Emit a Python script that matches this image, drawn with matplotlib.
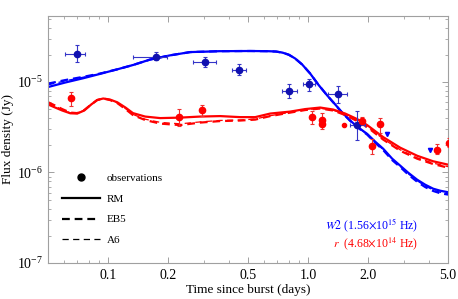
import matplotlib
matplotlib.use("Agg")
import matplotlib.pyplot as plt
from matplotlib.lines import Line2D
from matplotlib.ticker import FixedLocator, NullFormatter, LogFormatterMathtext

plt.rcParams['font.family'] = ['Liberation Serif', 'DejaVu Serif']
plt.rcParams['mathtext.fontset'] = 'stix'

# ---- W2 model curves ----
w2_t = [0.0501, 0.0610, 0.0750, 0.0912, 0.111, 0.133, 0.162, 0.204, 0.257, 0.363, 0.513,
        0.624, 0.690, 0.745, 0.800, 0.860, 0.933, 1.023, 1.122, 1.245, 1.365, 1.479, 1.622, 1.758, 1.972,
        2.163, 2.371, 2.630, 2.884, 3.162, 3.508, 3.846, 4.217, 4.571, 5.01]
w2_rm = [8.80e-6, 9.87e-6, 1.10e-5, 1.23e-5, 1.38e-5, 1.54e-5, 1.77e-5, 1.97e-5, 2.14e-5,
         2.19e-5, 2.20e-5, 2.19e-5, 2.17e-5, 2.11e-5, 2.00e-5, 1.82e-5, 1.56e-5, 1.24e-5, 9.38e-6, 7.09e-6,
         5.64e-6, 4.59e-6, 3.75e-6, 3.21e-6, 2.67e-6, 2.19e-6, 1.83e-6, 1.42e-6, 1.19e-6,
         9.95e-7, 8.32e-7, 7.33e-7, 6.62e-7, 6.29e-7, 6.05e-7]
w2_eb5 = [9.60e-6, 1.05e-5, 1.14e-5, 1.24e-5, 1.38e-5, 1.54e-5, 1.77e-5, 1.97e-5, 2.14e-5,
          2.19e-5, 2.20e-5, 2.19e-5, 2.17e-5, 2.11e-5, 2.00e-5, 1.82e-5, 1.56e-5, 1.24e-5, 9.40e-6, 7.10e-6,
          5.62e-6, 4.57e-6, 3.72e-6, 3.17e-6, 2.62e-6, 2.13e-6, 1.77e-6, 1.37e-6, 1.15e-6,
          9.5e-7, 7.9e-7, 6.9e-7, 6.25e-7, 5.9e-7, 5.70e-7]
w2_a6 = [9.30e-6, 1.03e-5, 1.13e-5, 1.24e-5, 1.38e-5, 1.54e-5, 1.77e-5, 1.97e-5, 2.14e-5,
         2.19e-5, 2.20e-5, 2.19e-5, 2.17e-5, 2.11e-5, 2.00e-5, 1.82e-5, 1.56e-5, 1.24e-5, 9.40e-6, 7.10e-6,
         5.63e-6, 4.58e-6, 3.73e-6, 3.19e-6, 2.64e-6, 2.15e-6, 1.79e-6, 1.39e-6, 1.17e-6,
         9.7e-7, 8.1e-7, 7.1e-7, 6.4e-7, 6.05e-7, 5.85e-7]

# ---- r model curves ----
r_t = [0.0501, 0.0543, 0.0589, 0.0646, 0.0700, 0.0759, 0.0822, 0.0881, 0.0944, 0.102, 0.111,
       0.122, 0.133, 0.153, 0.182, 0.229, 0.288, 0.363, 0.457, 0.543, 0.646, 0.813, 0.966,
       1.148, 1.334, 1.531, 1.758, 1.972, 2.371, 2.884, 3.508, 4.217, 5.01]
r_rm = [5.64e-6, 5.22e-6, 4.84e-6, 4.51e-6, 4.48e-6, 4.84e-6, 5.64e-6, 6.32e-6, 6.57e-6,
        6.40e-6, 5.97e-6, 5.22e-6, 4.53e-6, 4.15e-6, 3.99e-6, 4.04e-6, 4.15e-6, 4.20e-6,
        4.09e-6, 4.09e-6, 4.48e-6, 4.71e-6, 5.02e-6, 5.22e-6, 4.96e-6, 4.48e-6, 3.89e-6,
        3.34e-6, 2.46e-6, 1.88e-6, 1.53e-6, 1.33e-6, 1.22e-6]
r_eb5 = [5.97e-6, 5.49e-6, 5.02e-6, 4.59e-6, 4.53e-6, 4.90e-6, 5.64e-6, 6.32e-6, 6.57e-6,
         6.32e-6, 5.85e-6, 5.02e-6, 4.31e-6, 3.80e-6, 3.47e-6, 3.34e-6, 3.56e-6, 3.70e-6,
         3.75e-6, 3.84e-6, 4.20e-6, 4.59e-6, 4.90e-6, 5.09e-6, 4.84e-6, 4.31e-6, 3.70e-6,
         3.18e-6, 2.31e-6, 1.74e-6, 1.42e-6, 1.24e-6, 1.13e-6]
r_a6 = [5.85e-6, 5.40e-6, 4.96e-6, 4.56e-6, 4.51e-6, 4.88e-6, 5.64e-6, 6.32e-6, 6.55e-6,
        6.34e-6, 5.88e-6, 5.08e-6, 4.38e-6, 3.88e-6, 3.58e-6, 3.45e-6, 3.62e-6, 3.76e-6,
        3.80e-6, 3.90e-6, 4.24e-6, 4.62e-6, 4.93e-6, 5.12e-6, 4.88e-6, 4.36e-6, 3.75e-6,
        3.22e-6, 2.35e-6, 1.78e-6, 1.45e-6, 1.27e-6, 1.16e-6]

# ---- W2 observations ----
w2_obs_t = [0.0697, 0.174, 0.305, 0.452, 0.803, 1.01, 1.41, 1.758]
w2_obs_f = [2.05e-5, 1.91e-5, 1.66e-5, 1.36e-5, 8.05e-6, 9.62e-6, 7.46e-6, 3.38e-6]
w2_obs_tlo = [0.0609, 0.133, 0.266, 0.417, 0.741, 0.944, 1.259, 1.622]
w2_obs_thi = [0.0767, 0.196, 0.347, 0.490, 0.881, 1.084, 1.567, 1.928]
w2_obs_flo = [1.65e-5, 1.73e-5, 1.47e-5, 1.18e-5, 6.73e-6, 8.05e-6, 5.93e-6, 2.30e-6]
w2_obs_fhi = [2.54e-5, 2.12e-5, 1.88e-5, 1.60e-5, 9.62e-6, 1.09e-5, 8.92e-6, 4.83e-6]
w2_lim_t = [2.48, 4.07]
w2_lim_f = [2.69e-6, 1.79e-6]

# ---- r observations ----
r_obs_t = [0.0653, 0.226, 0.295, 1.047, 1.175, 1.175, 1.862, 2.29, 2.09, 4.42, 5.07]
r_obs_f = [6.62e-6, 4.15e-6, 4.96e-6, 4.15e-6, 3.85e-6, 3.47e-6, 3.75e-6, 3.47e-6, 1.98e-6,
           1.79e-6, 2.14e-6]
r_obs_flo = [5.49e-6, 3.30e-6, 4.25e-6, 3.47e-6, 3.38e-6, 3.05e-6, 3.45e-6, 2.76e-6, 1.62e-6,
             1.62e-6, 1.90e-6]
r_obs_fhi = [7.85e-6, 5.09e-6, 5.63e-6, 4.83e-6, 4.59e-6, 3.95e-6, 4.10e-6, 4.04e-6, 2.37e-6,
             2.08e-6, 2.40e-6]
r_small_t = [1.514]
r_small_f = [3.38e-6]

x_major = [0.1, 0.2, 0.5, 1.0, 2.0, 5.0]
x_major_labels = ['0.1', '0.2', '0.5', '1.0', '2.0', '5.0']

BLUE = '#0000ff'
DBLUE = '#1010b0'
RED = '#ff0000'

fig = plt.figure(figsize=(4.58, 2.99), dpi=100)
ax = fig.add_axes([48/458, 36/299, 400/458, 247/299])
ax.set_xscale('log')
ax.set_yscale('log')

dash_thick = (3.5, 2.2)
dash_thin = (5, 3.5)

for t, rm, eb, a6, c in [(w2_t, w2_rm, w2_eb5, w2_a6, BLUE), (r_t, r_rm, r_eb5, r_a6, RED)]:
    ax.plot(t, rm, color=c, lw=1.6, solid_capstyle='butt', solid_joinstyle='round')
    ax.plot(t, eb, color=c, lw=1.6, dashes=dash_thick)
    ax.plot(t, a6, color=c, lw=0.9, dashes=dash_thin)

# observations
xerr = [[a - b for a, b in zip(w2_obs_t, w2_obs_tlo)], [b - a for a, b in zip(w2_obs_t, w2_obs_thi)]]
yerr = [[a - b for a, b in zip(w2_obs_f, w2_obs_flo)], [b - a for a, b in zip(w2_obs_f, w2_obs_fhi)]]
ax.errorbar(w2_obs_t, w2_obs_f, xerr=xerr, yerr=yerr, fmt='o', color=DBLUE, ms=4.5,
            elinewidth=0.8, capsize=1.5, capthick=0.8, ecolor='#3535c8', zorder=5)
ax.plot(w2_lim_t, w2_lim_f, 'v', color=BLUE, ms=3, zorder=5)

ryerr = [[a - b for a, b in zip(r_obs_f, r_obs_flo)], [b - a for a, b in zip(r_obs_f, r_obs_fhi)]]
ax.errorbar(r_obs_t, r_obs_f, yerr=ryerr, fmt='o', color=RED, ms=4.5,
            elinewidth=0.8, capsize=1.5, capthick=0.8, ecolor='#f03030', zorder=5)
ax.plot(r_small_t, r_small_f, 'o', color=RED, ms=3, zorder=5)

ax.set_xlim(0.05, 5.0)
ax.set_ylim(1e-7, 5.36e-5)

ax.xaxis.set_major_locator(FixedLocator(x_major))
ax.set_xticklabels(x_major_labels)
minors = [m * d for d in [0.01, 0.1, 1.0] for m in range(1, 10)]
minors = [v for v in minors if 0.05 <= v <= 5.0 and round(v, 4) not in x_major]
ax.xaxis.set_minor_locator(FixedLocator(minors))
ax.xaxis.set_minor_formatter(NullFormatter())
ax.yaxis.set_major_formatter(LogFormatterMathtext())

for s in ax.spines.values():
    s.set_color('#a0a0a0')
    s.set_linewidth(0.8)
ax.tick_params(which='both', direction='in', top=True, right=True, colors='#a0a0a0',
               labelcolor='black', labelsize=10)
ax.tick_params(which='major', length=4.5, width=0.7)
ax.tick_params(which='minor', length=2.5, width=0.6)
ax.tick_params(axis='x', pad=4)

ax.set_xlabel('Time since burst (days)', fontsize=9.5, labelpad=2)
ax.set_ylabel('Flux density (Jy)', fontsize=9.5, labelpad=2)

handles = [Line2D([], [], color='black', marker='o', ls='none', ms=5),
           Line2D([], [], color='black', lw=1.6),
           Line2D([], [], color='black', lw=1.6, dashes=dash_thick),
           Line2D([], [], color='black', lw=0.9, dashes=dash_thin)]
labels = ['observations', 'RM', 'EB5', 'A6']
ax.legend(handles, labels, loc='upper left', bbox_to_anchor=(0.035, 0.365), frameon=False,
          fontsize=8, handlelength=3.4, handletextpad=0.6, labelspacing=1.0,
          borderpad=0, borderaxespad=0)

ax.text(0.925, 0.154, r'$\mathit{W2}$ (1.56$\times$10$^{15}$ Hz)', color=BLUE, fontsize=8.5,
        ha='right', va='center', transform=ax.transAxes)
ax.text(0.925, 0.077, r'$\mathit{r}$  (4.68$\times$10$^{14}$ Hz)', color=RED, fontsize=8.5,
        ha='right', va='center', transform=ax.transAxes)

fig.savefig('out.png', dpi=100)
